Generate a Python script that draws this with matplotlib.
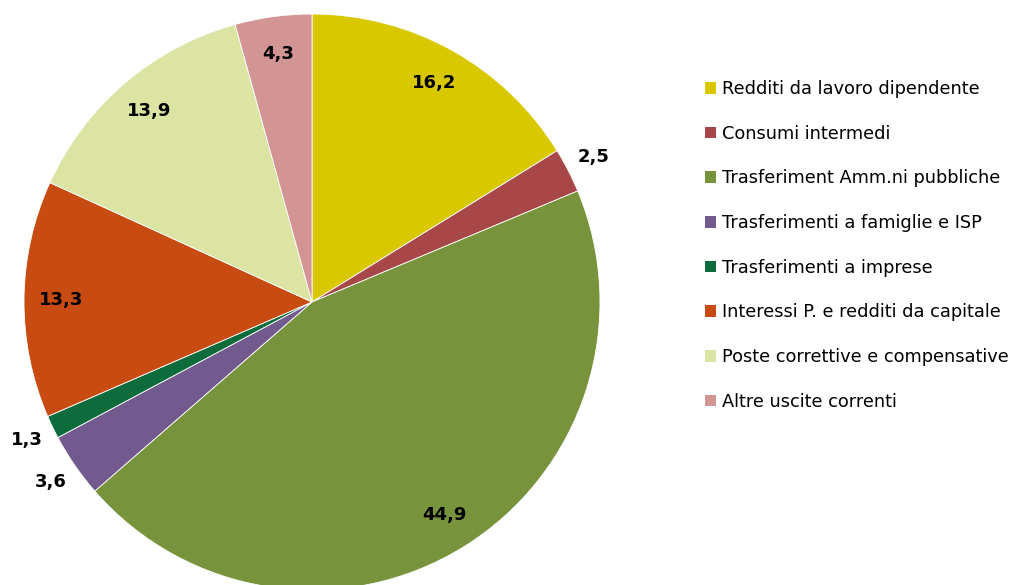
import matplotlib
matplotlib.use("Agg")
import matplotlib.pyplot as plt
from matplotlib.patches import Patch
import numpy as np

# Data
labels = [
    "Redditi da lavoro dipendente",
    "Consumi intermedi",
    "Trasferiment Amm.ni pubbliche",
    "Trasferimenti a famiglie e ISP",
    "Trasferimenti a imprese",
    "Interessi P. e redditi da capitale",
    "Poste correttive e compensative",
    "Altre uscite correnti",
]
values = [16.2, 2.5, 44.9, 3.6, 1.3, 13.3, 13.9, 4.3]
colors = ["#D9C800", "#A84747", "#77933C", "#725A8E", "#0E6B3C",
          "#C84B12", "#DCE4A3", "#D39494"]

W, H = 1013, 585
CX, CY = 312, 302  # pie centre in pixels from top-left
R = 288

plt.rcParams["font.family"] = ["DejaVu Sans"]

fig = plt.figure(figsize=(W / 100, H / 100), dpi=100)
ax = fig.add_axes([0, 0, 1, 1])

wedges, _ = ax.pie(values, colors=colors, radius=R, startangle=90,
                   counterclock=False, center=(0, 0),
                   wedgeprops=dict(edgecolor="white", linewidth=0.6))
ax.set_xlim(-CX, W - CX)
ax.set_ylim(-(H - CY), CY)
ax.set_aspect("equal")
ax.axis("off")

# value labels: small slices outside, others inside
for w, v in zip(wedges, values):
    ang = np.deg2rad((w.theta1 + w.theta2) / 2)
    r = R * (1.1 if v < 4 else 0.87)
    ax.text(r * np.cos(ang), r * np.sin(ang), f"{v:.1f}".replace(".", ","),
            ha="center", va="center", fontsize=13, fontweight="bold",
            color="black")

handles = [Patch(facecolor=c, edgecolor="none") for c in colors]
leg = ax.legend(handles, labels, loc="upper left",
                bbox_to_anchor=(705 / W, 1 - 80 / H),
                bbox_transform=fig.transFigure, frameon=False,
                fontsize=12.8, handlelength=0.62, handleheight=0.62,
                handletextpad=0.33, labelspacing=1.5, borderpad=0,
                borderaxespad=0)

fig.savefig("out.png", dpi=100)
